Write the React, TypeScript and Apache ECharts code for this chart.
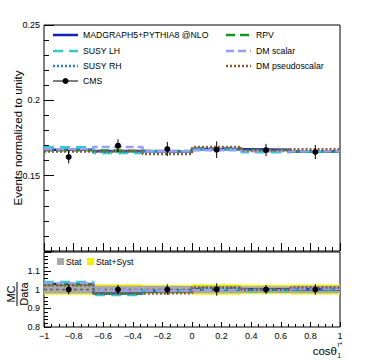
import React, { useEffect, useRef } from "react";
import * as echarts from "echarts";

// ---- data ----
const binEdges = [-1, -0.6667, -0.3333, 0, 0.3333, 0.6667, 1];
const binCenters = [-0.8333, -0.5, -0.1667, 0.1667, 0.5, 0.8333];
const xTickLabels = ["−1", "−0.8", "−0.6", "−0.4", "−0.2", "0", "0.2", "0.4", "0.6", "0.8", "1"];

const cmsValues = [0.1624, 0.1699, 0.1677, 0.1672, 0.167, 0.1657];
const cmsErrors = [0.0042, 0.0042, 0.0047, 0.0055, 0.0041, 0.0047];

const statRelErr = [0.021, 0.02, 0.019, 0.02, 0.018, 0.02];
const totalRelErr = [0.028, 0.028, 0.024, 0.028, 0.025, 0.027];

const madgraphValues = [0.1672, 0.1663, 0.166, 0.1675, 0.1672, 0.166];
const rpvValues = [0.1668, 0.1664, 0.1664, 0.168, 0.167, 0.1658];
const susyLHValues = [0.1689, 0.165, 0.1662, 0.1676, 0.1655, 0.1662];
const susyRHValues = [0.167, 0.1662, 0.1658, 0.1677, 0.1668, 0.1662];
const dmScalarValues = [0.1675, 0.169, 0.1662, 0.1668, 0.1662, 0.1663];
const dmPseudoValues = [0.166, 0.1663, 0.1643, 0.169, 0.1668, 0.1675];

const modelNames = ["MADGRAPH5+PYTHIA8 @NLO", "RPV", "SUSY LH", "SUSY RH", "DM scalar", "DM pseudoscalar"];
const modelValues = [madgraphValues, rpvValues, susyLHValues, susyRHValues, dmScalarValues, dmPseudoValues];

// ---- styles ----
const modelStyles = [
  { color: "#1020b0", type: "solid" as any, width: 2.5 },
  { color: "#18951c", type: [9, 5], width: 2.5 },
  { color: "#33cccc", type: [10, 6], width: 2.5 },
  { color: "#2a78e0", type: [2, 2], width: 2.5 },
  { color: "#9c9cf4", type: [8, 4], width: 2.5 },
  { color: "#8a5a2e", type: [2, 2], width: 2.5 },
];

const FONT = "Liberation Sans";

function stepData(values: number[]) {
  return binEdges.map((e, i) => [e, values[Math.min(i, values.length - 1)]]);
}

export default function App() {
  const ref = useRef<HTMLDivElement>(null);
  useEffect(() => {
    if (!ref.current) return;
    const chart = echarts.init(ref.current, undefined, { renderer: "svg" });

    const errRender = (params: any, api: any) => {
      const x = api.value(0);
      const y = api.value(1);
      const e = api.value(2);
      const p = api.coord([x, y]);
      const t = api.coord([x, y + e]);
      const b = api.coord([x, y - e]);
      return {
        type: "group",
        children: [
          { type: "line", shape: { x1: p[0], y1: t[1], x2: p[0], y2: b[1] }, style: { stroke: "#000", lineWidth: 1 } },
          { type: "circle", shape: { cx: p[0], cy: p[1], r: 3 }, style: { fill: "#000" } },
        ],
      };
    };
    const bandRender = (color: string) => (params: any, api: any) => {
      const a = api.coord([api.value(0), api.value(3)]);
      const b = api.coord([api.value(1), api.value(2)]);
      return {
        type: "rect",
        shape: { x: a[0], y: a[1], width: b[0] - a[0], height: b[1] - a[1] },
        style: { fill: color },
      };
    };

    const series: any[] = [];
    modelValues.forEach((vals, i) => {
      series.push({
        type: "line",
        name: modelNames[i],
        xAxisIndex: 0,
        yAxisIndex: 0,
        step: "end",
        symbol: "none",
        data: stepData(vals),
        lineStyle: { color: modelStyles[i].color, width: modelStyles[i].width, type: modelStyles[i].type },
        z: 2 + i,
      });
    });
    series.push({
      type: "custom",
      name: "CMS",
      xAxisIndex: 0,
      yAxisIndex: 0,
      renderItem: errRender,
      encode: { x: 0, y: 1 },
      data: binCenters.map((c, i) => [c, cmsValues[i], cmsErrors[i]]),
      z: 20,
    });
    series.push({
      type: "custom",
      xAxisIndex: 1,
      yAxisIndex: 1,
      renderItem: bandRender("#f5f200"),
      encode: { x: [0, 1], y: [2, 3] },
      data: binCenters.map((c, i) => [binEdges[i], binEdges[i + 1], 1 - totalRelErr[i], 1 + totalRelErr[i]]),
      z: 1,
    });
    series.push({
      type: "custom",
      xAxisIndex: 1,
      yAxisIndex: 1,
      renderItem: bandRender("#a9a9a9"),
      encode: { x: [0, 1], y: [2, 3] },
      data: binCenters.map((c, i) => [binEdges[i], binEdges[i + 1], 1 - statRelErr[i], 1 + statRelErr[i]]),
      z: 2,
    });
    series.push({
      type: "line",
      xAxisIndex: 1,
      yAxisIndex: 1,
      symbol: "none",
      data: [[-1, 1], [1, 1]],
      lineStyle: { color: "#666", width: 1.5, type: [3, 3] },
      z: 3,
    });
    modelValues.forEach((vals, i) => {
      series.push({
        type: "line",
        xAxisIndex: 1,
        yAxisIndex: 1,
        step: "end",
        symbol: "none",
        data: stepData(vals.map((v, j) => v / cmsValues[j])),
        lineStyle: { color: modelStyles[i].color, width: modelStyles[i].width, type: modelStyles[i].type },
        z: 4 + i,
      });
    });
    series.push({
      type: "custom",
      xAxisIndex: 1,
      yAxisIndex: 1,
      renderItem: errRender,
      encode: { x: 0, y: 1 },
      data: binCenters.map((c, i) => [c, 1, cmsErrors[i] / cmsValues[i]]),
      z: 20,
    });

    const axisLabelStyle = { color: "#000", fontFamily: FONT, fontSize: 9 };

    const items: any[] = [];
    const leg = (x: number, y: number, i: number) => {
      items.push({
        type: "line",
        shape: { x1: x, y1: y, x2: x + 25, y2: y },
        style: { stroke: modelStyles[i].color, lineWidth: 2.5, lineDash: modelStyles[i].type === "solid" ? null : modelStyles[i].type },
      });
      items.push({
        type: "text",
        x: x + 30,
        y: y,
        style: { text: modelNames[i], fontFamily: FONT, fontSize: 8.7, fill: "#000", verticalAlign: "middle" },
      });
    };
    leg(53, 35, 0);
    leg(53, 51, 2);
    leg(53, 66, 3);
    leg(226, 35, 1);
    leg(226, 51, 4);
    leg(226, 66, 5);
    items.push({ type: "line", shape: { x1: 53, y1: 81, x2: 78, y2: 81 }, style: { stroke: "#000", lineWidth: 1 } });
    items.push({ type: "circle", shape: { cx: 65.5, cy: 81, r: 3 }, style: { fill: "#000" } });
    items.push({
      type: "text",
      x: 83,
      y: 81,
      style: { text: "CMS", fontFamily: FONT, fontSize: 8.7, fill: "#000", verticalAlign: "middle" },
    });
    items.push({ type: "rect", shape: { x: 57, y: 258, width: 7, height: 7 }, style: { fill: "#a9a9a9" } });
    items.push({
      type: "text",
      x: 66,
      y: 262,
      style: { text: "Stat", fontFamily: FONT, fontSize: 8.7, fill: "#000", verticalAlign: "middle" },
    });
    items.push({ type: "rect", shape: { x: 87, y: 258, width: 7, height: 7 }, style: { fill: "#f5f200" } });
    items.push({
      type: "text",
      x: 96,
      y: 262,
      style: { text: "Stat+Syst", fontFamily: FONT, fontSize: 8.7, fill: "#000", verticalAlign: "middle" },
    });
    items.push({
      type: "text",
      x: 18,
      y: 138,
      rotation: Math.PI / 2,
      style: {
        text: "Events normalized to unity",
        fontFamily: FONT,
        fontSize: 11.5,
        fill: "#000",
        align: "center",
        verticalAlign: "middle",
      },
    });
    items.push({
      type: "group",
      x: 17,
      y: 294,
      rotation: Math.PI / 2,
      children: [
        {
          type: "text",
          x: 0,
          y: -1,
          style: { text: "MC", fontFamily: FONT, fontSize: 11, fill: "#000", align: "center", verticalAlign: "bottom" },
        },
        { type: "line", shape: { x1: -12, y1: 0, x2: 12, y2: 0 }, style: { stroke: "#000", lineWidth: 1 } },
        {
          type: "text",
          x: 0,
          y: 1,
          style: { text: "Data", fontFamily: FONT, fontSize: 11, fill: "#000", align: "center", verticalAlign: "top" },
        },
      ],
    });
    items.push({
      type: "text",
      x: 337,
      y: 351,
      style: { text: "cosθ", fontFamily: FONT, fontSize: 11.5, fill: "#000", align: "right", verticalAlign: "middle" },
    });
    items.push({
      type: "text",
      x: 337.5,
      y: 344,
      style: { text: "r*", fontFamily: FONT, fontSize: 6.5, fill: "#000", align: "left", verticalAlign: "middle" },
    });
    items.push({
      type: "text",
      x: 337.5,
      y: 355,
      style: { text: "1", fontFamily: FONT, fontSize: 6.5, fill: "#000", align: "left", verticalAlign: "middle" },
    });

    const noLine = { show: false, onZero: false };
    const option: any = {
      animation: false,
      backgroundColor: "#fff",
      grid: [
        { left: 44, right: 30, top: 25, height: 226, show: true, borderColor: "#000", borderWidth: 1, backgroundColor: "transparent" },
        { left: 44, right: 30, top: 252, height: 75, show: true, borderColor: "#000", borderWidth: 1, backgroundColor: "transparent" },
      ],
      xAxis: [
        {
          type: "value",
          gridIndex: 0,
          min: -1,
          max: 1,
          interval: 0.2,
          axisLine: noLine,
          axisTick: { show: true, inside: true, length: 8, lineStyle: { color: "#000" } },
          minorTick: { show: true, splitNumber: 4, length: 4, lineStyle: { color: "#000" } },
          axisLabel: { show: false },
          splitLine: { show: false },
        },
        {
          type: "value",
          gridIndex: 1,
          min: -1,
          max: 1,
          interval: 0.2,
          axisLine: noLine,
          axisTick: { show: true, inside: true, length: 5, lineStyle: { color: "#000" } },
          minorTick: { show: true, splitNumber: 4, length: 3, lineStyle: { color: "#000" } },
          axisLabel: {
            ...axisLabelStyle,
            margin: 4,
            formatter: (v: number) => xTickLabels[Math.round((v + 1) / 0.2)] ?? "",
          },
          splitLine: { show: false },
        },
      ],
      yAxis: [
        {
          type: "value",
          gridIndex: 0,
          min: 0.1,
          max: 0.25,
          interval: 0.05,
          axisLine: noLine,
          axisTick: { show: true, inside: true, length: 10, lineStyle: { color: "#000" } },
          minorTick: { show: true, splitNumber: 5, length: 5, lineStyle: { color: "#000" } },
          axisLabel: {
            ...axisLabelStyle,
            margin: 4,
            formatter: (v: number) => (Math.abs(v - 0.1) < 1e-6 ? "" : String(+v.toFixed(2))),
          },
          splitLine: { show: false },
        },
        {
          type: "value",
          gridIndex: 1,
          min: 0.8,
          max: 1.2,
          interval: 0.1,
          axisLine: noLine,
          axisTick: { show: true, inside: true, length: 7, lineStyle: { color: "#000" } },
          minorTick: { show: true, splitNumber: 5, length: 4, lineStyle: { color: "#000" } },
          axisLabel: {
            ...axisLabelStyle,
            margin: 4,
            formatter: (v: number) => (Math.abs(v - 1.2) < 1e-6 ? "" : String(+v.toFixed(1))),
          },
          splitLine: { show: false },
        },
      ],
      graphic: items,
      series,
    };
    chart.setOption(option);
    return () => chart.dispose();
  }, []);
  return <div ref={ref} style={{ width: 370, height: 360, position: "absolute", left: 0, top: 0 }} />;
}
